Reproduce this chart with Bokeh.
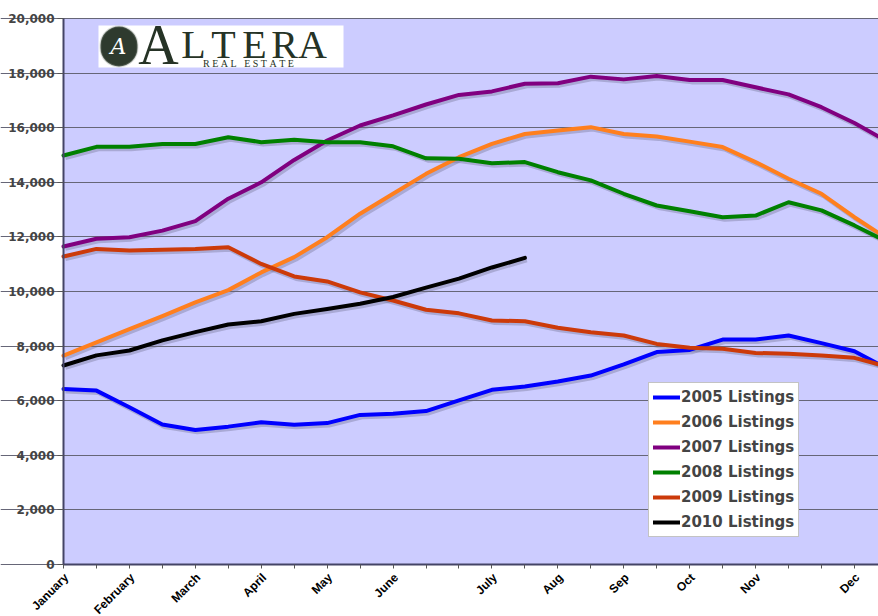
import math
from bokeh.plotting import figure
from bokeh.models import (FixedTicker, NumeralTickFormatter, Legend, LegendItem,
                          Label, BoxAnnotation, Range1d)
from bokeh.core.properties import value
from bokeh.embed import file_html
from bokeh.resources import INLINE

# ---- data (half-month sampling points) ----
tick_positions = list(range(0, 26))
label_positions = [0, 2, 4, 6, 8, 10, 13, 15, 17, 19, 21, 24]
month_labels = ["January", "February", "March", "April", "May", "June",
                "July", "Aug", "Sep", "Oct", "Nov", "Dec"]
y_ticks = list(range(0, 20001, 2000))

x_all = list(range(0, 26))
x_2010 = list(range(0, 15))

listings_2005 = [6430, 6370, 5760, 5130, 4930, 5050, 5210, 5120, 5180, 5480, 5520, 5620, 6010,
                 6400, 6520, 6700, 6920, 7330, 7780, 7860, 8240, 8240, 8390, 8110, 7810, 7170]
listings_2006 = [7650, 8140, 8620, 9100, 9600, 10050, 10700, 11260, 11990, 12850, 13580, 14310, 14920,
                 15410, 15770, 15900, 16020, 15770, 15680, 15490, 15290, 14740, 14130, 13580, 12720, 11930]
listings_2007 = [11650, 11930, 11990, 12230, 12580, 13400, 14000, 14820, 15530, 16080, 16450, 16850, 17200,
                 17330, 17610, 17630, 17870, 17770, 17890, 17750, 17750, 17480, 17220, 16750, 16170, 15490]
listings_2008 = [14980, 15300, 15300, 15400, 15400, 15650, 15470, 15560, 15470, 15470, 15320, 14880, 14860,
                 14700, 14740, 14370, 14070, 13580, 13150, 12940, 12720, 12780, 13270, 12970, 12420, 11820]
listings_2009 = [11280, 11560, 11500, 11530, 11560, 11620, 11010, 10550, 10370, 9970, 9670, 9330, 9200,
                 8940, 8910, 8670, 8510, 8390, 8080, 7940, 7900, 7750, 7720, 7660, 7570, 7250]
listings_2010 = [7290, 7660, 7840, 8210, 8510, 8790, 8910, 9180, 9360, 9550, 9800, 10140, 10470,
                 10880, 11230]

series = [
    ("2005 Listings", x_all, listings_2005, "#0000FF"),
    ("2006 Listings", x_all, listings_2006, "#FF7F1E"),
    ("2007 Listings", x_all, listings_2007, "#800080"),
    ("2008 Listings", x_all, listings_2008, "#008000"),
    ("2009 Listings", x_all, listings_2009, "#CC3A0A"),
    ("2010 Listings", x_2010, listings_2010, "#000000"),
]

# ---- layout geometry (pixels) ----
W, H = 878, 616
AREA_L, AREA_T, AREA_B = 63, 18, 564      # plot-area edges on the canvas
X_END = 24.73                              # last visible category position
Y_MAX = 20000

x_ppu = (W - AREA_L) / X_END
y_ppu = (AREA_B - AREA_T) / Y_MAX
x_range = Range1d(-AREA_L / x_ppu, X_END)
y_range = Range1d(-(H - AREA_B) / y_ppu, Y_MAX + AREA_T / y_ppu)

p = figure(width=W, height=H, output_backend="svg", toolbar_location=None,
           x_range=x_range, y_range=y_range, min_border=0)
p.background_fill_color = "white"
p.border_fill_color = "white"
p.outline_line_color = None

# plot-area fill (underneath the grid)
area = BoxAnnotation(left=0, bottom=0, top=Y_MAX, fill_color="#CCCCFF", fill_alpha=1.0,
                     line_color=None, level="underlay")
p.center = [area] + list(p.center)

# axes placed at the plot-area edges
p.xaxis.fixed_location = 0
p.xaxis.bounds = (0, X_END)
p.xaxis.ticker = FixedTicker(ticks=tick_positions)
p.xaxis.major_label_overrides = {i: "" for i in tick_positions}
p.xaxis.major_label_text_font_size = "1px"
p.xaxis.major_label_standoff = 0
p.xaxis.major_tick_in = 0
p.xaxis.major_tick_out = 4
p.xaxis.minor_tick_line_color = None
p.xaxis.axis_line_color = "#444466"
p.xaxis.axis_line_width = 2
p.xaxis.major_tick_line_color = "#555555"

p.yaxis.fixed_location = 0
p.yaxis.bounds = (0, Y_MAX)
p.yaxis.ticker = FixedTicker(ticks=y_ticks)
p.yaxis.formatter = NumeralTickFormatter(format="0,0")
p.yaxis.major_label_text_font = "DejaVu Sans"
p.yaxis.major_label_text_font_style = "bold"
p.yaxis.major_label_text_font_size = "12px"
p.yaxis.major_label_standoff = 3
p.yaxis.major_tick_in = 0
p.yaxis.major_tick_out = 6
p.yaxis.minor_tick_line_color = None
p.yaxis.axis_line_color = "#444466"
p.yaxis.axis_line_width = 2
p.yaxis.major_tick_line_color = "#555555"

p.xgrid.grid_line_color = None
p.ygrid.grid_line_color = "#666677"
p.ygrid.grid_line_width = 1

# month labels under the axis, rotated 45 degrees
p.text(x=label_positions, y=[0] * len(label_positions), text=month_labels,
       angle=math.pi / 4, text_align="right", text_baseline="middle",
       x_offset=3, y_offset=11,
       text_font=value("Liberation Sans"), text_font_style="bold",
       text_font_size="12px", text_color="black")

# lines (with a soft shadow like the original)
items = []
for name, xs, ys, color in series:
    p.line([x + 0.06 for x in xs], [y - 90 for y in ys], line_width=4, color="#666688",
           line_alpha=0.35, line_join="round")
for name, xs, ys, color in series:
    r = p.line(xs, ys, line_width=4, color=color, line_join="round", line_cap="round")
    items.append(LegendItem(label=name, renderers=[r]))

legend = Legend(items=items, location=(648, H - 537), orientation="vertical",
                label_text_font="DejaVu Sans", label_text_font_style="bold",
                label_text_font_size="15px", label_standoff=1,
                glyph_width=27, glyph_height=20, label_height=20, spacing=5,
                padding=4, margin=0, border_line_color="#888888", border_line_width=1,
                background_fill_color="white", background_fill_alpha=1.0)
p.add_layout(legend)

# logo (screen units: x from left, y from bottom of the canvas)
def sy(canvas_y):
    return H - canvas_y

p.add_layout(BoxAnnotation(left=98, right=343, top=sy(25), bottom=sy(67),
                           left_units="screen", right_units="screen",
                           top_units="screen", bottom_units="screen",
                           fill_color="white", fill_alpha=1.0, line_color=None))
p.add_layout(BoxAnnotation(left=100, right=137, top=sy(26), bottom=sy(66),
                           left_units="screen", right_units="screen",
                           top_units="screen", bottom_units="screen",
                           fill_color="#2E3A2E", fill_alpha=1.0, line_color="#8a948a",
                           line_width=2, border_radius=19))
p.add_layout(Label(x=118, y=sy(58), x_units="screen", y_units="screen", text="A",
                   text_font="DejaVu Serif", text_font_style="italic",
                   text_font_size="22px", text_color="white", text_align="center"))
logo_letters = [("A", 158, 75, "56px"), ("L", 193, 66, "40px"), ("T", 223, 66, "40px"),
                ("E", 254, 66, "40px"), ("R", 284, 66, "40px"), ("A", 312, 66, "40px")]
for ch, lx, ly, fs in logo_letters:
    p.add_layout(Label(x=lx, y=sy(ly), x_units="screen", y_units="screen", text=ch,
                       text_font="Liberation Serif", text_font_size=fs,
                       text_color="#263326", text_align="center"))
nb = "\u00a0"
p.add_layout(Label(x=248, y=sy(68), x_units="screen", y_units="screen",
                   text=nb.join("REAL") + nb * 3 + nb.join("ESTATE"),
                   text_font="Liberation Serif",
                   text_font_size="10px", text_color="#263326", text_align="center"))

open("out.html", "w").write(file_html(p, INLINE))
